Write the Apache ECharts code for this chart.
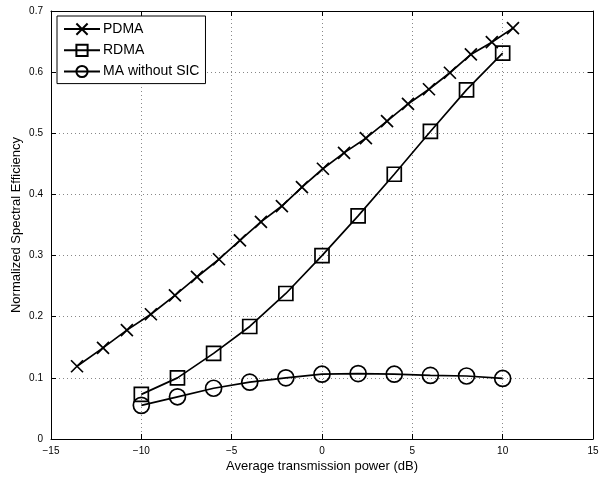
<!DOCTYPE html>
<html><head><meta charset="utf-8">
<script src="https://cdn.jsdelivr.net/npm/echarts@6/dist/echarts.min.js"></script>
<style>html,body{margin:0;padding:0;background:#fff}#c{width:600px;height:477px}</style>
</head><body><div id="c"></div>
<script>
const pdmaX = [-13.56,-12.12,-10.8,-9.47,-8.14,-6.92,-5.7,-4.54,-3.38,-2.22,-1.11,0.05,1.22,2.43,3.6,4.76,5.92,7.08,8.24,9.4,10.57];
const pdmaY = [0.119,0.149,0.178,0.204,0.235,0.265,0.294,0.325,0.355,0.381,0.412,0.442,0.468,0.492,0.52,0.548,0.572,0.599,0.629,0.649,0.672];
const powerX = [-10,-8,-6,-4,-2,0,2,4,6,8,10];
const rdmaY = [0.073,0.1,0.14,0.184,0.238,0.3,0.365,0.433,0.503,0.571,0.631];
const maY = [0.055,0.069,0.083,0.093,0.1,0.106,0.107,0.106,0.104,0.103,0.099];
const xTicks = [-15,-10,-5,0,5,10,15];
const yTicks = [0,0.1,0.2,0.3,0.4,0.5,0.6,0.7];
const seriesNames = ['PDMA','RDMA','MA without SIC'];

const zip = (xs, ys) => xs.map((x, i) => [x, ys[i]]);
const font = 'Liberation Sans, Arial, Helvetica, sans-serif';
const chart = echarts.init(document.getElementById('c'));
const markStyle = {color: 'none', borderColor: '#000', borderWidth: 1.7};
const axisCommon = {
  axisLine: {show: true, onZero: false, lineStyle: {color: '#000', width: 1}},
  axisTick: {show: true, inside: true, length: 5, lineStyle: {color: '#000'}},
};
chart.setOption({
  animation: false,
  backgroundColor: '#fff',
  grid: {left: 51, right: 7, top: 11, bottom: 38, containLabel: false, outerBoundsMode: 'none'},
  legend: {
    orient: 'vertical', left: 57, top: 16,
    data: seriesNames,
    backgroundColor: '#fff',
    borderColor: '#000', borderWidth: 1,
    padding: [5, 6, 4, 6],
    itemGap: 5, itemWidth: 36, itemHeight: 14,
    textStyle: {fontFamily: font, fontSize: 14, color: '#000', padding: [0, 0, 0, -2]}
  },
  xAxis: [
    Object.assign({
      type: 'value', min: -15, max: 15, interval: 5, position: 'bottom',
      name: 'Average transmission power (dB)', nameLocation: 'middle', nameGap: 21,
      nameMoveOverlap: false,
      nameTextStyle: {fontFamily: font, fontSize: 13, color: '#000'},
      axisLabel: {fontFamily: font, fontSize: 10, color: '#000', margin: 7,
        formatter: v => String(v).replace('-', '\u2212')},
      splitLine: {show: true, lineStyle: {color: '#888', type: [1, 3], width: 1}}
    }, axisCommon),
    Object.assign({
      type: 'value', min: -15, max: 15, interval: 5, position: 'top',
      axisLabel: {show: false}, splitLine: {show: false}
    }, axisCommon)
  ],
  yAxis: [
    Object.assign({
      type: 'value', min: 0, max: 0.7, interval: 0.1, position: 'left',
      name: 'Normalized Spectral Efficiency', nameLocation: 'middle', nameGap: 28,
      nameMoveOverlap: false,
      nameTextStyle: {fontFamily: font, fontSize: 13, color: '#000'},
      axisLabel: {fontFamily: font, fontSize: 10, color: '#000', margin: 8,
        formatter: v => String(Math.round(v * 10) / 10)},
      splitLine: {show: true, lineStyle: {color: '#888', type: [1, 3], width: 1}}
    }, axisCommon),
    Object.assign({
      type: 'value', min: 0, max: 0.7, interval: 0.1, position: 'right',
      axisLabel: {show: false}, splitLine: {show: false}
    }, axisCommon)
  ],
  series: [
    {name: seriesNames[0], type: 'line', data: zip(pdmaX, pdmaY),
     symbol: 'path://M0,0L10,10M10,0L0,10', symbolSize: 12, showAllSymbol: true,
     lineStyle: {color: '#000', width: 1.7}, itemStyle: markStyle},
    {name: seriesNames[1], type: 'line', data: zip(powerX, rdmaY),
     symbol: 'rect', symbolSize: 14, showAllSymbol: true,
     lineStyle: {color: '#000', width: 1.7}, itemStyle: markStyle},
    {name: seriesNames[2], type: 'line', data: zip(powerX, maY),
     symbol: 'circle', symbolSize: 16, showAllSymbol: true,
     lineStyle: {color: '#000', width: 1.7}, itemStyle: markStyle}
  ]
});
</script></body></html>
